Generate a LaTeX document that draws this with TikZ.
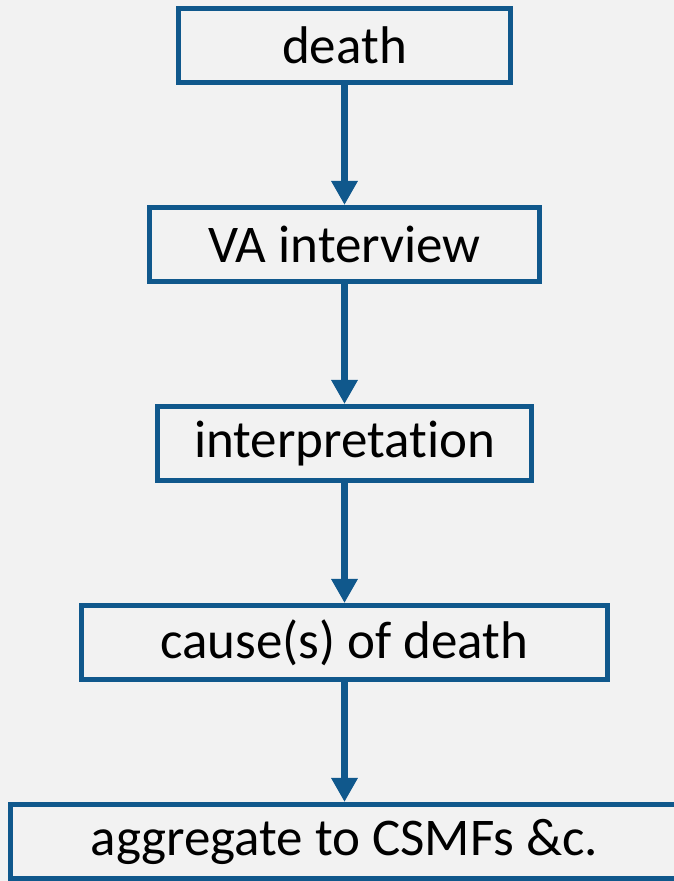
\documentclass[tikz,border=0pt]{standalone}
\usepackage{fontspec}
\setmainfont{Carlito}[Ligatures=CommonOff]
\usetikzlibrary{shapes, arrows.meta}
\definecolor{boxblue}{RGB}{16,88,140}
\definecolor{bggray}{RGB}{242,242,242}
\tikzstyle{stepbox} = [rectangle, minimum height=74pt, inner sep=0pt, text centered, draw=boxblue, line width=5pt, fill=bggray, font=\fontsize{53}{60}\selectfont]
\tikzstyle{edge} = [draw=boxblue, line width=7pt, -{Triangle[width=25pt, length=24pt]}]

\begin{document}
\begin{tikzpicture}[x=1pt, y=1pt, node distance=199pt]

\fill[bggray] (0,0) rectangle (674,881);
\useasboundingbox (0,0) rectangle (674,881);

\node (0) [stepbox, minimum width=332pt] at (344.5,835.5) {death};
\node (1) [stepbox, minimum width=390pt, below of=0] {VA interview};
\node (2) [stepbox, minimum width=374pt, below of=1] {interpretation};
\node (3) [stepbox, minimum width=526pt, below of=2] {cause(s) of death};
\node (4) [stepbox, minimum width=668pt, below of=3] {aggregate to CSMFs \&c.};

\draw [edge] (0) -- (1);
\draw [edge] (1) -- (2);
\draw [edge] (2) -- (3);
\draw [edge] (3) -- (4);

\end{tikzpicture}
\end{document}
